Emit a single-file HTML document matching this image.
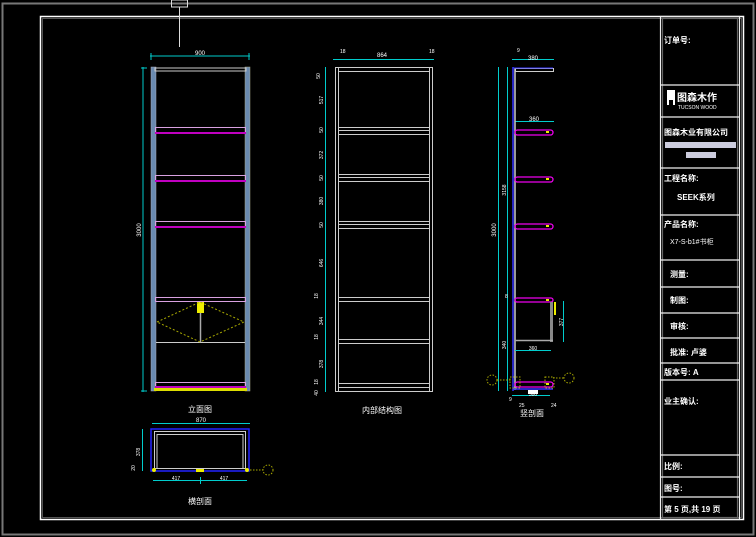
<!DOCTYPE html>
<html><head><meta charset="utf-8"><style>
html,body{margin:0;padding:0;background:#000;width:756px;height:537px;overflow:hidden}
svg{display:block}
text{font-family:"Liberation Sans","Noto Sans CJK SC",sans-serif;fill:#fff}
</style></head><body>
<svg width="756" height="537" viewBox="0 0 756 537" xmlns="http://www.w3.org/2000/svg">
<rect width="756" height="537" fill="#000"/>
<!-- outer gray frame -->
<rect x="2.5" y="3.5" width="751" height="531" fill="none" stroke="#777" stroke-width="2"/>
<!-- inner frame -->
<rect x="40.5" y="16.5" width="703" height="503" fill="none" stroke="#fff" stroke-width="1.5"/>
<rect x="42.5" y="18.5" width="699" height="499" fill="none" stroke="#555" stroke-width="1"/>
<!-- top marker -->
<rect x="171.5" y="0" width="16" height="7" fill="none" stroke="#ddd"/>
<line x1="179.5" y1="7" x2="179.5" y2="47" stroke="#ddd"/>

<!-- title block -->
<g fill="none" stroke="#eee" stroke-width="1.2">
<rect x="660.5" y="16.5" width="79" height="503"/>
<rect x="662.5" y="18.5" width="75" height="499" stroke="#666"/>
<g stroke="#eee">
<line x1="660" y1="85" x2="740" y2="85"/><line x1="660" y1="117" x2="740" y2="117"/>
<line x1="660" y1="168" x2="740" y2="168"/><line x1="660" y1="215" x2="740" y2="215"/>
<line x1="660" y1="260" x2="740" y2="260"/><line x1="660" y1="287" x2="740" y2="287"/>
<line x1="660" y1="313" x2="740" y2="313"/><line x1="660" y1="338" x2="740" y2="338"/>
<line x1="660" y1="363" x2="740" y2="363"/><line x1="660" y1="380" x2="740" y2="380"/>
<line x1="660" y1="455" x2="740" y2="455"/><line x1="660" y1="477" x2="740" y2="477"/>
<line x1="660" y1="497" x2="740" y2="497"/>
</g></g>
<g font-size="8" font-weight="bold">
<text x="664" y="43">订单号:</text>
<text x="664" y="135">图森木业有限公司</text>
<text x="664" y="181">工程名称:</text>
<text x="677" y="200" font-size="8">SEEK系列</text>
<text x="664" y="227">产品名称:</text>
<text x="670" y="244" font-size="7" font-weight="normal">X7-S-b1#书柜</text>
<text x="670" y="277">测量:</text>
<text x="670" y="303">制图:</text>
<text x="670" y="329">审核:</text>
<text x="670" y="355">批准: 卢婆</text>
<text x="664" y="375">版本号:  A</text>
<text x="664" y="404">业主确认:</text>
<text x="664" y="469">比例:</text>
<text x="664" y="491">图号:</text>
<text x="664" y="512">第 5 页,共 19 页</text>
</g>
<!-- logo -->
<rect x="667" y="90" width="8" height="15" fill="#fff"/>
<rect x="669" y="100" width="4" height="6" fill="#000"/>
<text x="677" y="101" font-size="10" font-weight="bold">图森木作</text>
<text x="678" y="109" font-size="5">TUCSON WOOD</text>
<rect x="665" y="142" width="71" height="6" fill="#ccd"/>
<rect x="686" y="152" width="30" height="6" fill="#ccd"/>

<!-- FRONT ELEVATION -->
<g>
<line x1="150" y1="56" x2="250" y2="56" stroke="#0cc"/>
<line x1="151" y1="53" x2="151" y2="60" stroke="#0cc"/><line x1="249" y1="53" x2="249" y2="60" stroke="#0cc"/>
<text x="200" y="55" font-size="6" text-anchor="middle">900</text>
<line x1="143" y1="67" x2="143" y2="392" stroke="#0cc"/>
<line x1="141" y1="68" x2="147" y2="68" stroke="#0cc"/><line x1="141" y1="391" x2="147" y2="391" stroke="#0cc"/>
<text x="141" y="230" font-size="6" text-anchor="middle" transform="rotate(-90 141 230)">3000</text>
<rect x="151" y="67" width="5" height="324" fill="#6a8ab0" stroke="#aab" stroke-width="0.5"/>
<rect x="245" y="67" width="5" height="324" fill="#6a8ab0" stroke="#aa8" stroke-width="0.5"/>
<rect x="155" y="68" width="91" height="3" fill="none" stroke="#ccc" stroke-width="1"/>
<g fill="none" stroke="#d8a0e0" stroke-width="1">
<rect x="155.5" y="127.5" width="90" height="5"/><rect x="155.5" y="175.5" width="90" height="5"/>
<rect x="155.5" y="221.5" width="90" height="5"/><rect x="155.5" y="297.5" width="90" height="4"/>
<rect x="155.5" y="382.5" width="90" height="4"/>
</g>
<g fill="#c000c0">
<rect x="155" y="132" width="91" height="2"/><rect x="155" y="180" width="91" height="2"/>
<rect x="155" y="226" width="91" height="2"/><rect x="155" y="386" width="91" height="2"/>
</g>
<rect x="154" y="388" width="93" height="3" fill="#dd0"/>
<line x1="156" y1="342.5" x2="245" y2="342.5" stroke="#ccc"/>
<line x1="200.5" y1="312" x2="200.5" y2="342" stroke="#aaa" stroke-width="1.5"/>
<rect x="197" y="302" width="7" height="11" fill="#ee0"/>
<polyline points="157,322 200,302 244,322 200,342 157,322" fill="none" stroke="#aa0" stroke-dasharray="2,2"/>
<text x="200" y="412" font-size="8" text-anchor="middle">立面图</text>
</g>

<!-- INTERNAL STRUCTURE -->
<g fill="none" stroke="#ccc" stroke-width="1">
<rect x="335.5" y="67.5" width="97" height="324"/>
<line x1="338.5" y1="67" x2="338.5" y2="391"/><line x1="429.5" y1="67" x2="429.5" y2="391"/>
<line x1="338" y1="71.5" x2="430" y2="71.5"/>
<line x1="338" y1="127.5" x2="430" y2="127.5"/><line x1="338" y1="130.5" x2="430" y2="130.5"/><line x1="338" y1="134.5" x2="430" y2="134.5"/>
<line x1="338" y1="174.5" x2="430" y2="174.5"/><line x1="338" y1="177.5" x2="430" y2="177.5"/><line x1="338" y1="181.5" x2="430" y2="181.5"/>
<line x1="338" y1="221.5" x2="430" y2="221.5"/><line x1="338" y1="224.5" x2="430" y2="224.5"/><line x1="338" y1="228.5" x2="430" y2="228.5"/>
<line x1="338" y1="297.5" x2="430" y2="297.5"/><line x1="338" y1="301.5" x2="430" y2="301.5"/>
<line x1="338" y1="339.5" x2="430" y2="339.5"/><line x1="338" y1="343.5" x2="430" y2="343.5"/>
<line x1="338" y1="383.5" x2="430" y2="383.5"/><line x1="338" y1="387.5" x2="430" y2="387.5"/>
</g>
<g stroke="#0cc" fill="none">
<line x1="333" y1="59.5" x2="434" y2="59.5"/>
<line x1="325.5" y1="67" x2="325.5" y2="392"/>
</g>
<g font-size="5" fill="#fff">
<text x="340" y="53">18</text><text x="382" y="57" text-anchor="middle" font-size="6">864</text><text x="429" y="53">18</text>
</g>
<g font-size="5">
<text x="320" y="76" transform="rotate(-90 320 76)" text-anchor="middle">50</text>
<text x="323" y="100" transform="rotate(-90 323 100)" text-anchor="middle">517</text>
<text x="323" y="130" transform="rotate(-90 323 130)" text-anchor="middle">50</text>
<text x="323" y="155" transform="rotate(-90 323 155)" text-anchor="middle">372</text>
<text x="323" y="178" transform="rotate(-90 323 178)" text-anchor="middle">50</text>
<text x="323" y="201" transform="rotate(-90 323 201)" text-anchor="middle">380</text>
<text x="323" y="225" transform="rotate(-90 323 225)" text-anchor="middle">50</text>
<text x="323" y="263" transform="rotate(-90 323 263)" text-anchor="middle">646</text>
<text x="318" y="296" transform="rotate(-90 318 296)" text-anchor="middle">18</text>
<text x="323" y="321" transform="rotate(-90 323 321)" text-anchor="middle">344</text>
<text x="318" y="337" transform="rotate(-90 318 337)" text-anchor="middle">18</text>
<text x="323" y="364" transform="rotate(-90 323 364)" text-anchor="middle">378</text>
<text x="318" y="382" transform="rotate(-90 318 382)" text-anchor="middle">18</text>
<text x="318" y="393" transform="rotate(-90 318 393)" text-anchor="middle">40</text>
</g>
<text x="382" y="413" font-size="8" text-anchor="middle">内部结构图</text>

<!-- SECTION -->
<g>
<line x1="498.5" y1="67" x2="498.5" y2="391" stroke="#0cc"/>
<line x1="507.5" y1="67" x2="507.5" y2="391" stroke="#0cc"/>
<line x1="512" y1="59.5" x2="554" y2="59.5" stroke="#0cc"/>
<line x1="515" y1="121.5" x2="554" y2="121.5" stroke="#0cc"/>
<line x1="513" y1="67" x2="513" y2="391" stroke="#33f" stroke-width="1.5"/>
<line x1="515" y1="68" x2="515" y2="390" stroke="#ccc" stroke-width="1.5"/>
<rect x="515.5" y="68.5" width="38" height="3" fill="none" stroke="#ccc"/>
<line x1="513" y1="68" x2="553" y2="68" stroke="#33f"/>
<g fill="none" stroke="#e0e" stroke-width="1.3">
<rect x="515" y="130" width="38" height="5" rx="2.5"/>
<rect x="515" y="177" width="38" height="5" rx="2.5"/>
<rect x="515" y="224" width="38" height="5" rx="2.5"/>
<rect x="515" y="298" width="38" height="4" rx="2"/>
<rect x="515" y="382" width="38" height="5" rx="2.5"/>
</g>
<g fill="#ee0"><rect x="546" y="131" width="3" height="2"/><rect x="546" y="178" width="3" height="2"/><rect x="546" y="225" width="3" height="2"/><rect x="546" y="299" width="3" height="2"/><rect x="546" y="383" width="3" height="2"/></g>
<rect x="554" y="302" width="2" height="13" fill="#ee0"/>
<rect x="550" y="302" width="3" height="40" fill="#888"/>
<line x1="515" y1="340.5" x2="553" y2="340.5" stroke="#aaa" stroke-width="1.5"/>
<line x1="563.5" y1="301" x2="563.5" y2="342" stroke="#0cc"/>
<line x1="515" y1="350.5" x2="551" y2="350.5" stroke="#0cc"/>
<line x1="513" y1="389" x2="553" y2="389" stroke="#33f" stroke-width="1.5"/>
<line x1="512" y1="395.5" x2="550" y2="395.5" stroke="#0cc"/>
<g fill="none" stroke="#aa0" stroke-dasharray="1.5,1.5">
<circle cx="492" cy="380" r="5"/><circle cx="569" cy="378" r="5"/>
<line x1="497" y1="380" x2="512" y2="380"/><line x1="553" y1="378" x2="564" y2="378"/>
<rect x="510" y="377" width="10" height="11"/><rect x="545" y="377" width="9" height="11"/>
</g>
<g font-size="5">
<text x="517" y="52">9</text><text x="533" y="60" text-anchor="middle" font-size="6">380</text>
<text x="534" y="121" text-anchor="middle" font-size="6">360</text>
<text x="506" y="190" transform="rotate(-90 506 190)" text-anchor="middle">3158</text>
<text x="496" y="230" transform="rotate(-90 496 230)" text-anchor="middle" font-size="6">3000</text>
<text x="505" y="298">8</text>
<text x="506" y="345" transform="rotate(-90 506 345)" text-anchor="middle">340</text>
<text x="563" y="322" transform="rotate(-90 563 322)" text-anchor="middle">377</text>
<text x="533" y="350" text-anchor="middle">360</text>
<text x="533" y="396" text-anchor="middle" fill="#fff">380</text>
<text x="509" y="401">9</text><text x="519" y="407">25</text><text x="551" y="407">24</text>
</g>
<rect x="528" y="390" width="10" height="4" fill="#fff"/>
<text x="532" y="416" font-size="8" text-anchor="middle">竖剖面</text>
</g>

<!-- PLAN -->
<g>
<line x1="152" y1="423.5" x2="250" y2="423.5" stroke="#0cc"/>
<text x="201" y="422" font-size="6" text-anchor="middle">870</text>
<line x1="142.5" y1="429" x2="142.5" y2="471" stroke="#0cc"/>
<text x="140" y="452" font-size="5" transform="rotate(-90 140 452)" text-anchor="middle">378</text>
<text x="135" y="468" font-size="5" transform="rotate(-90 135 468)" text-anchor="middle">20</text>
<rect x="151" y="429" width="98" height="42" fill="none" stroke="#22f" stroke-width="1.5"/>
<rect x="154.5" y="431.5" width="91" height="37" fill="none" stroke="#ccc"/>
<line x1="157" y1="434.5" x2="243" y2="434.5" stroke="#ccc"/>
<line x1="157" y1="434" x2="157" y2="468" stroke="#ccc"/><line x1="243" y1="434" x2="243" y2="468" stroke="#ccc"/>
<circle cx="154" cy="470" r="2" fill="#ee0"/><circle cx="247" cy="470" r="2" fill="#ee0"/>
<rect x="196" y="469" width="8" height="3" fill="#ee0"/>
<line x1="153" y1="480.5" x2="247" y2="480.5" stroke="#0cc"/>
<line x1="200.5" y1="477" x2="200.5" y2="484" stroke="#0cc"/>
<text x="176" y="480" font-size="5" text-anchor="middle">417</text>
<text x="224" y="480" font-size="5" text-anchor="middle">417</text>
<g fill="none" stroke="#aa0" stroke-dasharray="1.5,1.5">
<line x1="250" y1="470" x2="263" y2="470"/><circle cx="268" cy="470" r="5"/>
</g>
<text x="200" y="504" font-size="8" text-anchor="middle">横剖面</text>
</g>
</svg>
</body></html>
